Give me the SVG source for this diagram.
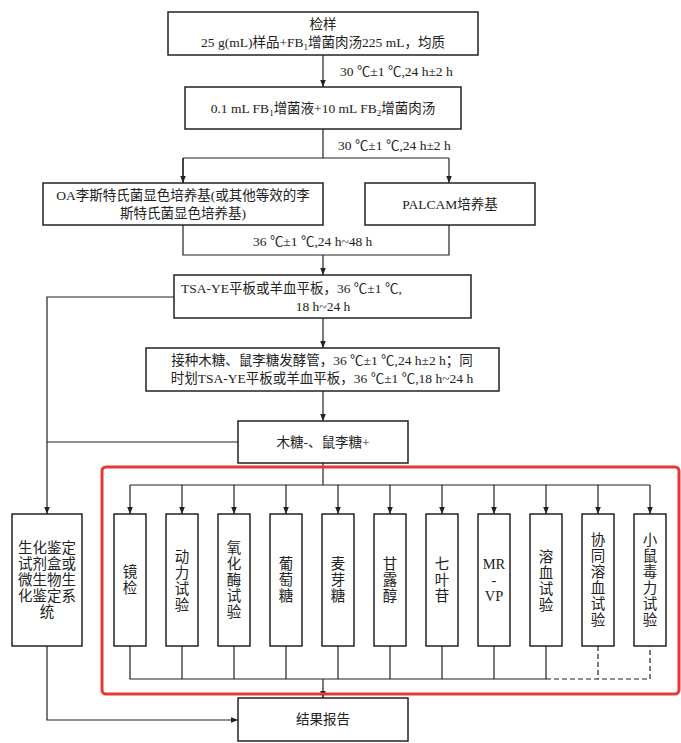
<svg xmlns="http://www.w3.org/2000/svg" width="681" height="743" viewBox="0 0 681 743">
<style>
.b{fill:#fff;stroke:#222;stroke-width:1.5}
.l{fill:none;stroke:#222;stroke-width:1.2}
.d{fill:none;stroke:#222;stroke-width:1.2;stroke-dasharray:5,3}
text{font-family:"Liberation Serif","Noto Sans CJK SC",serif;font-size:13.5px;fill:#222}
.m{text-anchor:middle}
.v{text-anchor:middle;font-size:14.5px}
</style>
<defs><marker id="a" viewBox="0 0 10 10" refX="10" refY="5" markerWidth="7" markerHeight="7" orient="auto" markerUnits="userSpaceOnUse"><path d="M0,1L10,5L0,9z" fill="#222"/></marker></defs>
<rect x="0" y="0" width="681" height="743" fill="#fff"/>
<g id="connectors">
<path class="l" d="M323,55V87" marker-end="url(#a)"/>
<path class="l" d="M323,129V158M183,158H449M183,158V183M449,158V183" marker-end="url(#a)"/>
<path class="l" d="M183,158V183" marker-end="url(#a)"/>
<path class="l" d="M183,225V255H449V225M323,255V275" marker-end="url(#a)"/>
<path class="l" d="M323,318V348" marker-end="url(#a)"/>
<path class="l" d="M323,391V421" marker-end="url(#a)"/>
<path class="l" d="M174,297H47V514" marker-end="url(#a)"/>
<path class="l" d="M238,442H47"/>
<path class="l" d="M323,463V485M130,485H650"/>
<path class="l" d="M130,485V514" marker-end="url(#a)"/><path class="l" d="M182,485V514" marker-end="url(#a)"/><path class="l" d="M234,485V514" marker-end="url(#a)"/><path class="l" d="M286,485V514" marker-end="url(#a)"/><path class="l" d="M338,485V514" marker-end="url(#a)"/><path class="l" d="M390,485V514" marker-end="url(#a)"/><path class="l" d="M442,485V514" marker-end="url(#a)"/><path class="l" d="M494,485V514" marker-end="url(#a)"/><path class="l" d="M546,485V514" marker-end="url(#a)"/><path class="l" d="M598,485V514" marker-end="url(#a)"/><path class="l" d="M650,485V514" marker-end="url(#a)"/>
<path class="l" d="M130,646V679H546M182,646V679M234,646V679M286,646V679M338,646V679M390,646V679M442,646V679M494,646V679M546,646V679"/>
<path class="d" d="M546,679H650V646M598,646V679"/>
<path class="l" d="M323,679V698" marker-end="url(#a)"/>
<path class="l" d="M47,646V720H238" marker-end="url(#a)"/>
</g>
<text x="340" y="76">30 ℃±1 ℃,24 h±2 h</text>
<text x="338" y="150">30 ℃±1 ℃,24 h±2 h</text>
<text x="253" y="246">36 ℃±1 ℃,24 h~48 h</text>
<g id="n1"><rect class="b" x="168" y="12" width="310" height="43"/><text class="m" x="323" y="29">检样</text><text class="m" x="323" y="47">25 g(mL)样品+FB<tspan font-size="9" dy="3">1</tspan><tspan dy="-3">增菌肉汤225 mL，均质</tspan></text></g>
<g id="n2"><rect class="b" x="185" y="87" width="276" height="42"/><text class="m" x="323" y="113">0.1 mL FB<tspan font-size="9" dy="3">1</tspan><tspan dy="-3">增菌液+10 mL FB</tspan><tspan font-size="9" dy="3">2</tspan><tspan dy="-3">增菌肉汤</tspan></text></g>
<g id="n3"><rect class="b" x="43" y="183" width="280" height="42"/><text class="m" x="183" y="200">OA李斯特氏菌显色培养基(或其他等效的李</text><text class="m" x="183" y="218">斯特氏菌显色培养基)</text></g>
<g id="n4"><rect class="b" x="365" y="183" width="170" height="42"/><text class="m" x="450" y="209">PALCAM培养基</text></g>
<g id="n5"><rect class="b" x="174" y="275" width="297" height="43"/><text x="181" y="293">TSA-YE平板或羊血平板，36 ℃±1 ℃,</text><text class="m" x="323" y="311">18 h~24 h</text></g>
<g id="n6"><rect class="b" x="146" y="348" width="353" height="43"/><text class="m" x="322" y="365">接种木糖、鼠李糖发酵管，36 ℃±1 ℃,24 h±2 h；同</text><text class="m" x="322" y="383">时划TSA-YE平板或羊血平板，36 ℃±1 ℃,18 h~24 h</text></g>
<g id="n7"><rect class="b" x="238" y="421" width="170" height="42"/><text class="m" x="323" y="447">木糖-、鼠李糖+</text></g>
<rect x="102" y="467" width="577" height="227" rx="4" fill="none" stroke="#e53935" stroke-width="3"/>
<g id="n8"><rect class="b" x="12" y="514" width="70" height="132"/><text class="v" x="47" y="553">生化鉴定<tspan x="47" dy="16">试剂盒或</tspan><tspan x="47" dy="16">微生物生</tspan><tspan x="47" dy="16">化鉴定系</tspan><tspan x="47" dy="16">统</tspan></text></g>
<g id="t1"><rect class="b" x="114" y="514" width="32" height="132"/><text class="v" x="130" y="577">镜<tspan x="130" dy="16">检</tspan></text></g>
<g id="t2"><rect class="b" x="166" y="514" width="32" height="132"/><text class="v" x="182" y="562">动<tspan x="182" dy="16">力</tspan><tspan x="182" dy="16">试</tspan><tspan x="182" dy="16">验</tspan></text></g>
<g id="t3"><rect class="b" x="218" y="514" width="32" height="132"/><text class="v" x="234" y="553">氧<tspan x="234" dy="16">化</tspan><tspan x="234" dy="16">酶</tspan><tspan x="234" dy="16">试</tspan><tspan x="234" dy="16">验</tspan></text></g>
<g id="t4"><rect class="b" x="270" y="514" width="32" height="132"/><text class="v" x="286" y="569">葡<tspan x="286" dy="16">萄</tspan><tspan x="286" dy="16">糖</tspan></text></g>
<g id="t5"><rect class="b" x="322" y="514" width="32" height="132"/><text class="v" x="338" y="569">麦<tspan x="338" dy="16">芽</tspan><tspan x="338" dy="16">糖</tspan></text></g>
<g id="t6"><rect class="b" x="374" y="514" width="32" height="132"/><text class="v" x="390" y="569">甘<tspan x="390" dy="16">露</tspan><tspan x="390" dy="16">醇</tspan></text></g>
<g id="t7"><rect class="b" x="426" y="514" width="32" height="132"/><text class="v" x="442" y="569">七<tspan x="442" dy="16">叶</tspan><tspan x="442" dy="16">苷</tspan></text></g>
<g id="t8"><rect class="b" x="478" y="514" width="32" height="132"/><text class="v" x="494" y="569">MR<tspan x="494" dy="16">-</tspan><tspan x="494" dy="16">VP</tspan></text></g>
<g id="t9"><rect class="b" x="530" y="514" width="32" height="132"/><text class="v" x="546" y="562">溶<tspan x="546" dy="16">血</tspan><tspan x="546" dy="16">试</tspan><tspan x="546" dy="16">验</tspan></text></g>
<g id="t10"><rect class="b" x="582" y="514" width="32" height="132"/><text class="v" x="598" y="545">协<tspan x="598" dy="16">同</tspan><tspan x="598" dy="16">溶</tspan><tspan x="598" dy="16">血</tspan><tspan x="598" dy="16">试</tspan><tspan x="598" dy="16">验</tspan></text></g>
<g id="t11"><rect class="b" x="634" y="514" width="32" height="132"/><text class="v" x="650" y="545">小<tspan x="650" dy="16">鼠</tspan><tspan x="650" dy="16">毒</tspan><tspan x="650" dy="16">力</tspan><tspan x="650" dy="16">试</tspan><tspan x="650" dy="16">验</tspan></text></g>
<g id="n9"><rect class="b" x="238" y="698" width="170" height="43"/><text class="m" x="323" y="724">结果报告</text></g>
</svg>
